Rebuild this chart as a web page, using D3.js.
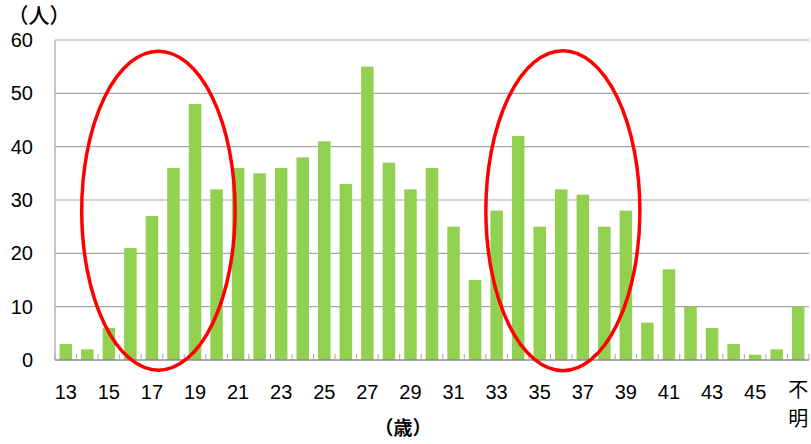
<!DOCTYPE html>
<html><head><meta charset="utf-8">
<script src="https://cdn.jsdelivr.net/npm/d3@7"></script>
<style>
html,body{margin:0;padding:0;background:#fff;}
svg{display:block;}
text{font-family:"Noto Sans","Noto Sans CJK JP",sans-serif;fill:#000;}
text.num{font-family:"Liberation Sans","Noto Sans CJK JP",sans-serif;}
</style></head>
<body>
<svg id="c" width="811" height="444"></svg>
<script>
const categories = ["13","14","15","16","17","18","19","20","21","22","23","24","25","26","27","28","29","30","31","32","33","34","35","36","37","38","39","40","41","42","43","44","45","46","不明"];
const values = [3,2,6,21,27,36,48,32,36,35,36,38,41,33,55,37,32,36,25,15,28,42,25,32,31,25,28,7,17,10,6,3,1,2,10];
const yTicks = [0,10,20,30,40,50,60];
const yUnit = "（人）";
const xUnit = "（歳）";
// highlight ellipses: category span (fractional band index) and value span
const highlights = [
  {i0:1.24, i1:8.36, v0:-1.9, v1:57.9},
  {i0:20.0, i1:27.15, v0:-2.0, v1:58.0}
];

const svg = d3.select("#c");
const m = {l:55, r:2, t:40, b:84};
const W = 811, H = 444;
const xb = d3.scaleBand().domain(categories).range([m.l, W - m.r]);
const y = d3.scaleLinear().domain([0,60]).range([H - m.b, m.t]);
const bw = xb.bandwidth();
const xi = d => m.l + d * bw;

// gridlines
svg.append("g").selectAll("line").data(yTicks.filter(d=>d>0)).join("line")
  .attr("x1", m.l).attr("x2", W - m.r)
  .attr("y1", d=>y(d)).attr("y2", d=>y(d))
  .attr("stroke", "#a6a6a6").attr("stroke-width", 1.2);

// bars
svg.append("g").selectAll("rect").data(values).join("rect")
  .attr("x", (d,i)=> xb(categories[i]) + (bw - 12.5)/2)
  .attr("width", 12.5)
  .attr("y", d=>y(d)).attr("height", d=>y(0)-y(d))
  .attr("fill", "#92D050");

// axes
svg.append("line").attr("x1", m.l).attr("x2", m.l).attr("y1", y(60)).attr("y2", y(0))
  .attr("stroke", "#a6a6a6").attr("stroke-width", 1.2);
svg.append("line").attr("x1", m.l).attr("x2", W - m.r).attr("y1", y(0)).attr("y2", y(0))
  .attr("stroke", "#8c8c8c").attr("stroke-width", 1.3);
// inside ticks at band boundaries
const bounds = d3.range(categories.length + 1);
svg.append("g").selectAll("line").data(bounds).join("line")
  .attr("x1", d=>xi(d)).attr("x2", d=>xi(d))
  .attr("y1", y(0)).attr("y2", y(0) - 6)
  .attr("stroke", "#a6a6a6").attr("stroke-width", 1);

// y tick labels
svg.append("g").selectAll("text").data(yTicks).join("text")
  .attr("class","num")
  .attr("x", 33).attr("y", d=>y(d)).attr("dy", "0.35em")
  .attr("text-anchor", "end").attr("font-size", 20).text(d=>d);

// x tick labels (every other)
svg.append("g").selectAll("text").data(categories.filter((c,i)=> i%2===0 && c!=="不明")).join("text")
  .attr("class","num")
  .attr("x", d=> xb(d) + bw/2).attr("y", 392).attr("dy", "0.35em")
  .attr("text-anchor", "middle").attr("font-size", 20).text(d=>d);
// 不明 vertical
const last = categories[categories.length-1];
const lt = svg.append("text").attr("text-anchor","middle").attr("font-size",20);
Array.from(last).forEach((ch,k)=>{
  lt.append("tspan").attr("x", xb(last)+bw/2).attr("y", 390 + k*29).attr("dy","0.35em").text(ch);
});

// units
svg.append("text").attr("x", 39).attr("y", 22.6).attr("text-anchor","middle")
  .attr("font-size", 21).attr("font-weight", "500").text(yUnit);
svg.append("text").attr("x", 403).attr("y", 428).attr("dy","0.35em").attr("text-anchor","middle")
  .attr("font-size", 19).attr("font-weight", "bold").text(xUnit);

// ellipses
svg.append("g").selectAll("ellipse").data(highlights).join("ellipse")
  .attr("cx", d=> (xi(d.i0)+xi(d.i1))/2)
  .attr("rx", d=> (xi(d.i1)-xi(d.i0))/2)
  .attr("cy", d=> (y(d.v0)+y(d.v1))/2)
  .attr("ry", d=> (y(d.v0)-y(d.v1))/2)
  .attr("fill","none").attr("stroke","#ff0000").attr("stroke-width",3.5);
</script>
</body></html>
